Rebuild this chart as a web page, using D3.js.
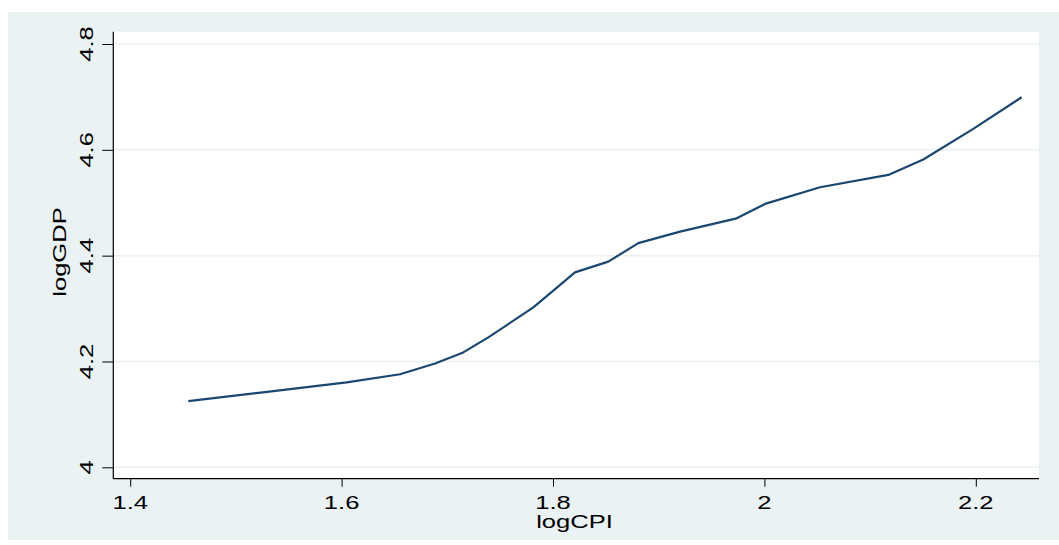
<!DOCTYPE html>
<html>
<head>
<meta charset="utf-8">
<script src="https://cdn.jsdelivr.net/npm/d3@7"></script>
<style>
  body { margin: 0; background: #ffffff; }
  text { font-family: "Liberation Sans", Arial, sans-serif; fill: #000; }
</style>
</head>
<body>
<svg id="chart" width="1059" height="545"></svg>
<script>
// Data
const logCPI = [1.455, 1.5275, 1.6048, 1.6553, 1.6884, 1.7151, 1.7388, 1.7814, 1.8003, 1.8208,
                1.8523, 1.8807, 1.9202, 1.9738, 2.0006, 2.0526, 2.1172, 2.1503, 2.1976, 2.2434];
const logGDP = [4.1252, 4.1422, 4.1604, 4.1759, 4.1963, 4.2171, 4.2455, 4.3022, 4.3338, 4.3684,
                4.3887, 4.4236, 4.4454, 4.4705, 4.4978, 4.5292, 4.5526, 4.5816, 4.6396, 4.6994];
const xTicks = [1.4, 1.6, 1.8, 2, 2.2];
const yTicks = [4, 4.2, 4.4, 4.6, 4.8];

const svg = d3.select("#chart");

// plot region edges
const plotLeft = 113.3, plotRight = 1039, plotTop = 31.7, plotBottom = 478.7;
const stretch = 1.42; // text in the picture is drawn wide

// Scales
const x = d3.scaleLinear().domain([1.4, 2.2]).range([130.2, 975.8]);
const y = d3.scaleLinear().domain([4, 4.8]).range([467.3, 44]);

// Outer background
svg.append("rect")
    .attr("x", 8).attr("y", 12)
    .attr("width", 1059 - 8).attr("height", 540 - 12)
    .attr("fill", "#eaf2f3");

// Plot region
svg.append("rect")
    .attr("x", plotLeft).attr("y", plotTop)
    .attr("width", plotRight - plotLeft).attr("height", plotBottom - plotTop)
    .attr("fill", "#ffffff");

// Gridlines
svg.selectAll(".grid")
    .data(yTicks)
    .enter().append("line")
    .attr("class", "grid")
    .attr("x1", plotLeft).attr("x2", plotRight)
    .attr("y1", d => y(d)).attr("y2", d => y(d))
    .attr("stroke", "#eaf2f3")
    .attr("stroke-width", 1.5);

// Axes
const yAxis = d3.axisLeft(y).tickValues(yTicks).tickSize(11).tickFormat("");
const xAxis = d3.axisBottom(x).tickValues(xTicks).tickSize(8).tickFormat("");

const gy = svg.append("g").attr("transform", "translate(" + plotLeft + ",0)").call(yAxis);
gy.select(".domain").remove();
gy.selectAll(".tick line").attr("stroke", "#000").attr("stroke-width", 1);

const gx = svg.append("g").attr("transform", "translate(0," + plotBottom + ")").call(xAxis);
gx.select(".domain").remove();
gx.selectAll(".tick line").attr("stroke", "#000").attr("stroke-width", 1);

// axis lines
svg.append("line")
    .attr("x1", plotLeft).attr("x2", plotLeft).attr("y1", plotTop).attr("y2", plotBottom)
    .attr("stroke", "#000").attr("stroke-width", 1.2);
svg.append("line")
    .attr("x1", plotLeft).attr("x2", plotRight).attr("y1", plotBottom).attr("y2", plotBottom)
    .attr("stroke", "#000").attr("stroke-width", 1.2);

// Tick labels
svg.selectAll(".ylab")
    .data(yTicks)
    .enter().append("text")
    .attr("class", "ylab")
    .attr("text-anchor", "middle")
    .attr("font-size", "18px")
    .attr("transform", d => "translate(93," + y(d) + ") rotate(-90) scale(" + stretch + ",1)")
    .text(d => d3.format("~g")(d));

svg.selectAll(".xlab")
    .data(xTicks)
    .enter().append("text")
    .attr("class", "xlab")
    .attr("text-anchor", "middle")
    .attr("font-size", "18px")
    .attr("transform", d => "translate(" + x(d) + ",508.5) scale(" + stretch + ",1)")
    .text(d => d3.format("~g")(d));

// Axis titles
svg.append("text")
    .attr("text-anchor", "middle")
    .attr("font-size", "18px")
    .attr("transform", "translate(574.5,527.5) scale(" + stretch + ",1)")
    .text("logCPI");

svg.append("text")
    .attr("text-anchor", "middle")
    .attr("font-size", "18px")
    .attr("transform", "translate(66,252) rotate(-90) scale(" + stretch + ",1)")
    .text("logGDP");

// Line
const pts = logCPI.map((v, i) => [v, logGDP[i]]);
const line = d3.line()
    .x(d => x(d[0]))
    .y(d => y(d[1]));

svg.append("path")
    .datum(pts)
    .attr("d", line)
    .attr("fill", "none")
    .attr("stroke", "#1a476f")
    .attr("stroke-width", 2.2)
    .attr("stroke-linejoin", "round");
</script>
</body>
</html>
